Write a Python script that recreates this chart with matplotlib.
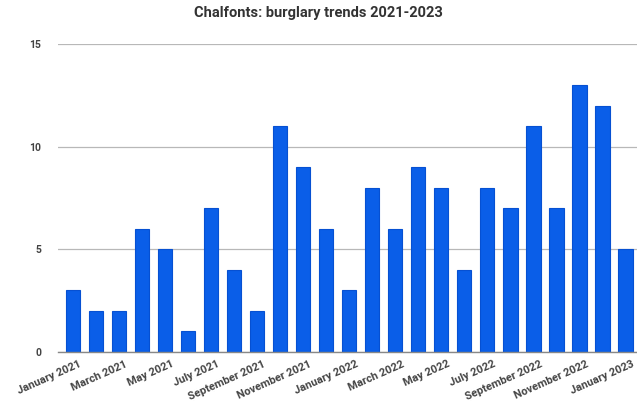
import matplotlib
matplotlib.use("Agg")
import matplotlib.pyplot as plt
import matplotlib.transforms as mtransforms
import numpy as np

months = ["January 2021", "February 2021", "March 2021", "April 2021", "May 2021", "June 2021",
          "July 2021", "August 2021", "September 2021", "October 2021", "November 2021", "December 2021",
          "January 2022", "February 2022", "March 2022", "April 2022", "May 2022", "June 2022",
          "July 2022", "August 2022", "September 2022", "October 2022", "November 2022", "December 2022",
          "January 2023"]
values = [3, 2, 2, 6, 5, 1, 7, 4, 2, 11, 9, 6, 3, 8, 6, 9, 8, 4, 8, 7, 11, 7, 13, 12, 5]
yticks = [0, 5, 10, 15]

plt.rcParams['font.family'] = ['Roboto', 'DejaVu Sans']

fig = plt.figure(figsize=(6.37, 4.13), dpi=100)
ax = fig.add_axes([58/637, 1 - 352/413, (637-58)/637, (352-44)/413])

x = np.arange(len(values))
ax.bar(x, values, width=0.62, color='#0a5ee8', edgecolor='#0650d2', linewidth=0.8, zorder=3)

ax.set_xlim(-0.65, 24.5)
ax.set_ylim(0, 15)
ax.set_yticks(yticks)
ax.set_yticklabels([str(v) for v in yticks], fontsize=7.5, fontweight='bold', color='#444444')
ax.grid(axis='y', color='#b8b8b8', linewidth=0.9, zorder=0)
ax.tick_params(axis='y', length=0, pad=12)
ax.tick_params(axis='x', length=0, pad=5)

ax.set_xticks(x[::2])
ax.set_xticklabels(months[::2], rotation=24, ha='right', rotation_mode='anchor',
                   fontsize=8, fontweight='bold', color='#444444')
offset = mtransforms.ScaledTranslation(6/100, 0, fig.dpi_scale_trans)
for lbl in ax.get_xticklabels():
    lbl.set_transform(lbl.get_transform() + offset)

for s in ['top', 'right', 'left']:
    ax.spines[s].set_visible(False)
ax.spines['bottom'].set_color('#888888')
ax.spines['bottom'].set_linewidth(1.0)
ax.spines['bottom'].set_zorder(4)

fig.text(0.5, 1 - 13/413, "Chalfonts: burglary trends 2021-2023", ha='center', va='center',
         fontsize=10.5, fontweight='bold', color='#333333')

fig.savefig("out.png", dpi=100)
